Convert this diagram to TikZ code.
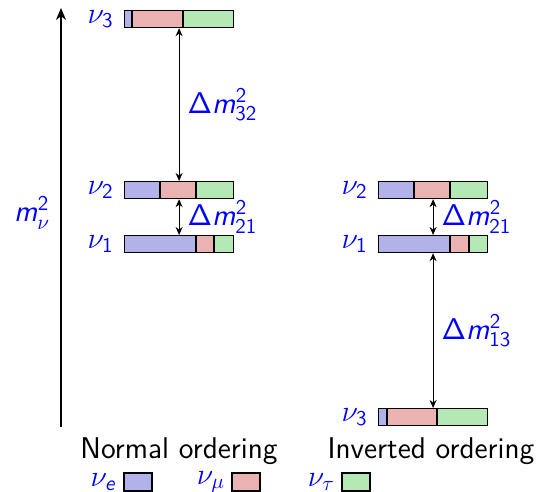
\documentclass[tikz,border=0pt]{standalone}
\usepackage{fix-cm}
\usetikzlibrary{arrows.meta,positioning}
\DeclareMathAlphabet{\mathsfit}{OT1}{cmss}{m}{sl}
\definecolor{cnue}{RGB}{178,178,235}
\definecolor{cnumu}{RGB}{235,178,178}
\definecolor{cnutau}{RGB}{180,232,180}
\newcommand{\nubar}[5]{%
  \fill[cnue] (#2,#3) rectangle (#4,#3+17);
  \fill[cnumu] (#4,#3) rectangle (#5,#3+17);
  \fill[cnutau] (#5,#3) rectangle (#2+109,#3+17);
  \draw[segline] (#4,#3) -- (#4,#3+17);
  \draw[segline] (#5,#3) -- (#5,#3+17);
  \node[barbox] (#1) at (#2,#3) {};
}
\newcommand{\labfont}{\fontsize{15}{18}\selectfont}
\newcommand{\txtfont}{\sffamily\fontsize{15}{18}\selectfont}
\begin{document}
\begin{tikzpicture}[x=0.5pt,y=-0.5pt,font=\sffamily,
  segline/.style={line width=0.6pt},
  barbox/.style={draw,line width=0.6pt,anchor=north west,minimum width=54.5pt,minimum height=8.5pt,inner sep=0pt},
  nulab/.style={text=blue,left=4pt,inner sep=1pt,font=\labfont},
  dlab/.style={text=blue,right=3pt,inner sep=1pt,font=\labfont},
  darr/.style={<->,>={Stealth[length=4pt,width=3.5pt]},line width=0.5pt},
  legbox/.style={draw,line width=0.6pt,minimum width=14pt,minimum height=9pt,inner sep=0pt},
  title/.style={font=\txtfont}]
\useasboundingbox (0,0) rectangle (538,492);
% normal ordering
\nubar{n3}{124}{10}{132}{183}
\nubar{n2}{124}{181}{160}{196}
\nubar{n1}{124}{235}{196}{214}
% inverted ordering
\nubar{i2}{378}{181}{414}{450}
\nubar{i1}{378}{235}{450}{469}
\nubar{i3}{378}{408}{387}{437}
% level labels
\node[nulab] (ln3) at (n3.west) {$\nu_{\mathsf{3}}$};
\node[nulab] (ln2) at (n2.west) {$\nu_{\mathsf{2}}$};
\node[nulab] (ln1) at (n1.west) {$\nu_{\mathsf{1}}$};
\node[nulab] (li2) at (i2.west) {$\nu_{\mathsf{2}}$};
\node[nulab] (li1) at (i1.west) {$\nu_{\mathsf{1}}$};
\node[nulab] (li3) at (i3.west) {$\nu_{\mathsf{3}}$};
% splittings
\draw[darr] (n3.south) -- (n2.north) node[midway,dlab] (d32) {$\mathsf{\Delta}\mathsfit{m}^{\mathsf{2}}_{\mathsf{32}}$};
\draw[darr] (n2.south) -- (n1.north) node[midway,dlab] (d21) {$\mathsf{\Delta}\mathsfit{m}^{\mathsf{2}}_{\mathsf{21}}$};
\draw[darr] (i2.south) -- (i1.north) node[midway,dlab] (e21) {$\mathsf{\Delta}\mathsfit{m}^{\mathsf{2}}_{\mathsf{21}}$};
\draw[darr] (i1.south) -- (i3.north) node[midway,dlab] (e13) {$\mathsf{\Delta}\mathsfit{m}^{\mathsf{2}}_{\mathsf{13}}$};
% axis
\coordinate (axb) at (61,427);
\coordinate (axt) at (61,8);
\draw[line width=1pt,-{Stealth[length=6pt,width=5pt]}] (axb) -- (axt);
\node[text=blue,font=\labfont] (axl) at (32,213) {$\mathsfit{m}^{\mathsf{2}}_{\nu}$};
% titles
\node[title] (tn) at (179,451) {Normal ordering};
\node[title] (ti) at (431,451) {Inverted ordering};
% legend
\node[legbox,fill=cnue] (be) at (138,482) {};
\node[legbox,fill=cnumu] (bm) at (246,482) {};
\node[legbox,fill=cnutau] (bt) at (356,482) {};
\node[nulab,left=2pt of be] (le) {$\nu_{\mathsfit{e}}$};
\node[nulab,left=2pt of bm] (lm) {$\nu_{\mu}$};
\node[nulab,left=2pt of bt] (lt) {$\nu_{\tau}$};
\end{tikzpicture}
\end{document}
